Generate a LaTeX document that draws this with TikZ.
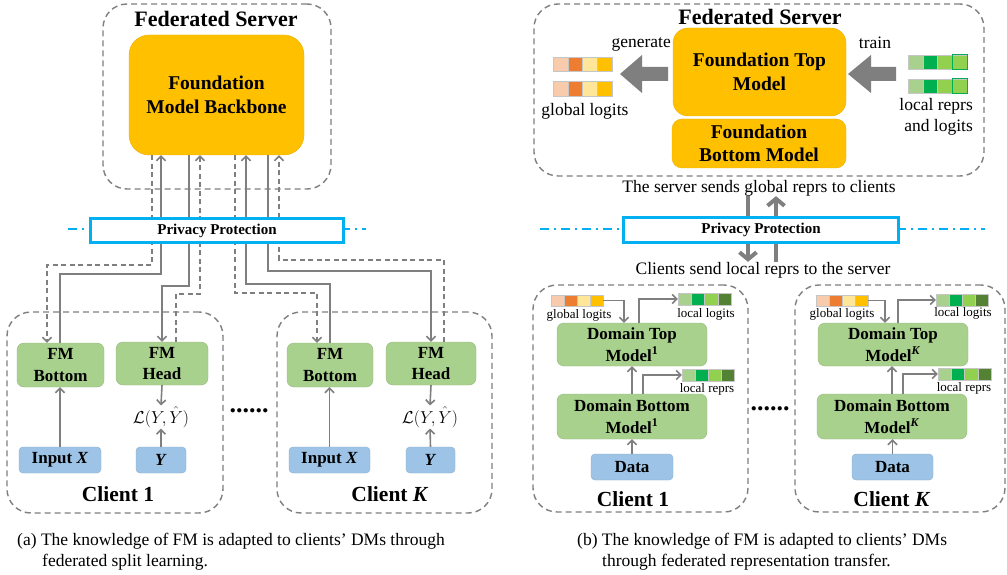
\documentclass[tikz,border=0pt]{standalone}
\usepackage{fontspec}
\setmainfont{Liberation Serif}
\usetikzlibrary{arrows.meta}
\definecolor{lgray}{HTML}{7F7F7F}
\definecolor{fmorange}{HTML}{FFC000}
\definecolor{fmgreen}{HTML}{A9D18E}
\definecolor{fmblue}{HTML}{9DC3E6}
\definecolor{ppblue}{HTML}{00B0F0}
\definecolor{oA}{HTML}{F8CBAD}
\definecolor{oB}{HTML}{ED7D31}
\definecolor{oC}{HTML}{FFE699}
\definecolor{oD}{HTML}{FFC000}
\definecolor{gA}{HTML}{A9D18E}
\definecolor{gB}{HTML}{00B050}
\definecolor{gC}{HTML}{92D050}
\definecolor{gD}{HTML}{548235}
\newcommand{\fs}[2]{\fontsize{#1}{#2}\selectfont}
\newcommand{\cellbar}[9]{%
  \node[cell, fill=#6, minimum width=#4, minimum height=#5] (#1a) at ({#2+0.5*#4},#3) {};
  \node[cell, fill=#7, minimum width=#4, minimum height=#5] (#1b) at ({#2+1.5*#4},#3) {};
  \node[cell, fill=#8, minimum width=#4, minimum height=#5] (#1c) at ({#2+2.5*#4},#3) {};
  \node[cell, fill=#9, minimum width=#4, minimum height=#5] (#1d) at ({#2+3.5*#4},#3) {};
}
\tikzset{
  dbox/.style={draw=lgray, line width=1.4pt, dash pattern=on 6pt off 4pt, rounded corners=24pt, inner sep=0pt},
  orbox/.style={fill=fmorange, draw=fmorange!92!black, line width=0.4pt, rounded corners=18pt, align=center, font=\fs{19.5}{23.5}\bfseries, inner sep=0pt},
  grbox/.style={fill=fmgreen, draw=fmgreen!88!black, line width=0.4pt, rounded corners=7pt, align=center, inner sep=0pt, font=\fs{17}{21.5}\bfseries},
  blbox/.style={fill=fmblue, draw=fmblue!88!black, line width=0.4pt, rounded corners=4pt, align=center, inner sep=0pt, font=\fs{17}{20}\bfseries},
  ppbox/.style={draw=ppblue, line width=3pt, fill=white, font=\fs{15}{18}\bfseries, inner sep=0pt},
  conn/.style={draw=lgray, line width=1.6pt, -{Straight Barb[length=4.5pt,width=9pt]}},
  dconn/.style={conn, dash pattern=on 5pt off 3.5pt},
  bigconn/.style={draw=lgray, line width=4pt, -{Straight Barb[length=7pt,width=17pt]}},
  ddline/.style={draw=ppblue, line width=1.5pt, dash pattern=on 9pt off 5pt on 2pt off 5pt},
  cell/.style={draw=gray!45, line width=0.4pt, inner sep=0pt},
  lbl/.style={inner sep=0pt, font=\fs{17.5}{21}},
  slbl/.style={inner sep=0pt, font=\fs{13}{15}},
  ttl/.style={inner sep=0pt, font=\fs{21.5}{25}\bfseries},
  mth/.style={inner sep=1pt, font=\fs{17}{20}},
  dotrow/.style={inner sep=0pt, font=\fs{26}{26}\bfseries},
}
\begin{document}
\begin{tikzpicture}[x=1pt,y=-1pt]
\useasboundingbox (0,0) rectangle (1007,575);
\fill[white] (0,0) rectangle (1007,575);

% ================= (a) =================
\node[dbox, minimum width=228, minimum height=185] (srvA) at (217,96.5) {};
\node[ttl, font=\fs{22}{26}\bfseries] (ttlA) at (216,19) {Federated Server};
\node[orbox, minimum width=175, minimum height=120, rounded corners=20pt] (bb) at (216.5,95) {Foundation\\Model Backbone};

\node[dbox, minimum width=216, minimum height=201] (clA1) at (115,412.5) {};
\node[dbox, minimum width=215, minimum height=201] (clAK) at (384.5,412.5) {};

\node[grbox, minimum width=87, minimum height=44] (fb1) at (60.5,365) {FM\\Bottom};
\node[grbox, minimum width=92, minimum height=43] (fh1) at (162,363.5) {FM\\Head};
\node[blbox, minimum width=82, minimum height=26] (in1) at (60,460) {Input \textit{X}};
\node[blbox, minimum width=50, minimum height=26] (y1) at (161,460) {\textit{Y}};
\node[mth] (ls1) at (161,417) {$\mathcal{L}(Y,\hat{Y})$};
\node[ttl] (cn1) at (118,494) {Client 1};

\node[grbox, minimum width=86, minimum height=44] (fbK) at (330,365) {FM\\Bottom};
\node[grbox, minimum width=90, minimum height=43] (fhK) at (431,363.5) {FM\\Head};
\node[blbox, minimum width=81, minimum height=26] (inK) at (329.5,460) {Input \textit{X}};
\node[blbox, minimum width=49, minimum height=26] (yK) at (430.5,460) {\textit{Y}};
\node[mth] (lsK) at (430,417) {$\mathcal{L}(Y,\hat{Y})$};
\node[ttl] (cnK) at (390,494) {Client \textit{K}};

\node[dotrow] (dotA) at (249,411) {......};

% connectors server <-> clients
\draw[dconn] (bb.south -| 152,0) -- (152,265) -| (fb1.north -| 47,0);
\draw[conn] (fb1.north -| 60,0) |- (161,274) -- (bb.south -| 161,0);
\draw[conn] (bb.south -| 189,0) -- (189,286) -| (fh1.north -| 162,0);
\draw[dconn] (fh1.north -| 176,0) |- (200,294) -- (bb.south -| 200,0);
\draw[dconn] (bb.south -| 235,0) -- (235,293) -| (fbK.north -| 317,0);
\draw[conn] (fbK.north -| 330,0) |- (246,284) -- (bb.south -| 246,0);
\draw[conn] (bb.south -| 268,0) -- (268,271) -| (fhK.north -| 431,0);
\draw[dconn] (fhK.north -| 444,0) |- (279,260) -- (bb.south -| 279,0);

% client internal
\draw[conn] (in1.north) -- (fb1.south -| in1.north);
\draw[conn] (fh1.south) -- (ls1.north);
\draw[conn] (y1.north) -- (ls1.south);
\draw[conn] (inK.north) -- (fbK.south -| inK.north);
\draw[conn] (fhK.south) -- (lsK.north);
\draw[conn] (yK.north) -- (lsK.south);

\draw[ddline] (68,229) -- (366,229);
\node[ppbox, minimum width=253, minimum height=24] (ppA) at (217,230.5) {Privacy Protection};

\node[lbl, anchor=base west] (capA1) at (17,545) {(a) The knowledge of FM is adapted to clients’ DMs through};
\node[lbl, anchor=base west] (capA2) at (42,566) {federated split learning.};

% ================= (b) =================
\node[dbox, minimum width=450, minimum height=172] (srvB) at (759,90) {};
\node[ttl, font=\fs{22}{26}\bfseries] (ttlB) at (760,17) {Federated Server};
\node[orbox, minimum width=173, minimum height=88, rounded corners=15pt] (ftop) at (759.5,72) {Foundation Top\\Model};
\node[orbox, minimum width=174, minimum height=49, rounded corners=10pt] (fbot) at (759,143.5) {Foundation\\Bottom Model};

\fill[lgray] (668,67) -- (642,67) -- (642,55) -- (620,74) -- (642,93) -- (642,81) -- (668,81) -- cycle;
\fill[lgray] (896,67) -- (871,67) -- (871,55) -- (848,74) -- (871,93) -- (871,81) -- (896,81) -- cycle;
\node[lbl, anchor=east] (gen) at (671,44) {generate};
\node[lbl] (trn) at (875,43) {train};

\cellbar{goA}{553}{64}{14.8}{14}{oA}{oB}{oC}{oD}
\cellbar{goB}{553}{88.5}{14.8}{15}{oA}{oB}{oC}{oD}
\node[lbl] (glbl) at (585,111) {global logits};
\cellbar{grA}{908}{62}{14.8}{14}{gA}{gB}{gC}{gC}
\cellbar{grB}{908}{86}{14.8}{14}{gA}{gB}{gC}{gC}
\draw[gB, line width=0.8pt] (grAd.south west) rectangle (grAd.north east);
\draw[gB, line width=0.8pt] (grBd.south west) rectangle (grBd.north east);
\node[lbl, anchor=east] (lrl1) at (973,106) {local reprs};
\node[lbl, anchor=east] (lrl2) at (973,127) {and logits};

\node[lbl] (srvtxt) at (759,188) {The server sends global reprs to clients};
\node[lbl] (cltxt) at (763,270) {Clients send local reprs to the server};

\draw[bigconn] (srvtxt.south -| 748,0) -- (cltxt.north -| 748,0);
\draw[bigconn] (cltxt.north -| 776,0) -- (srvtxt.south -| 776,0);

\draw[ddline] (540,229) -- (985,229);
\node[ppbox, minimum width=275, minimum height=25] (ppB) at (761,230) {Privacy Protection};

% clients (b)
\node[dbox, minimum width=215, minimum height=227] (clB1) at (640.5,398.5) {};
\node[dbox, minimum width=210, minimum height=227] (clBK) at (900,398.5) {};

\node[grbox, minimum width=150, minimum height=43] (dt1) at (632,344.5) {Domain Top\\Model\textsuperscript{1}};
\node[grbox, minimum width=150, minimum height=45] (db1) at (632,416.5) {Domain Bottom\\Model\textsuperscript{1}};
\node[blbox, minimum width=82, minimum height=26] (data1) at (632,467) {Data};
\node[ttl] (cb1) at (633,499) {Client 1};
\cellbar{gl1}{551}{300.5}{13}{11}{oA}{oB}{oC}{oD}
\node[slbl] (gl1t) at (579,315) {global logits};
\cellbar{ll1}{678}{299}{13.25}{12}{gA}{gB}{gC}{gD}
\node[slbl] (ll1t) at (706,314) {local logits};
\cellbar{lr1}{682}{375}{13}{12}{gA}{gB}{gC}{gD}
\node[slbl] (lr1t) at (707,389) {local reprs};
\draw[conn] (gl1d.east) -| (dt1.north -| 624,0);
\draw[conn] (dt1.north -| 639,0) |- (ll1a.west);
\draw[conn] (db1.north) -- (dt1.south);
\draw[conn] (db1.north -| 643,0) |- (lr1a.west);
\draw[conn] (data1.north) -- (db1.south);

\node[grbox, minimum width=150, minimum height=43] (dtK) at (893,344.5) {Domain Top\\Model\textsuperscript{\textit{K}}};
\node[grbox, minimum width=150, minimum height=45] (dbK) at (892,416.5) {Domain Bottom\\Model\textsuperscript{\textit{K}}};
\node[blbox, minimum width=81, minimum height=26] (dataK) at (892.5,467) {Data};
\node[ttl] (cbK) at (892,499) {Client \textit{K}};
\cellbar{glK}{816}{300.5}{13}{11}{oA}{oB}{oC}{oD}
\node[slbl] (glKt) at (842,314) {global logits};
\cellbar{llK}{936}{300}{13}{12}{gA}{gB}{gC}{gD}
\node[slbl] (llKt) at (963,313) {local logits};
\cellbar{lrK}{938}{374}{13.25}{12}{gA}{gB}{gC}{gD}
\node[slbl] (lrKt) at (964,388) {local reprs};
\draw[conn] (glKd.east) -| (dtK.north -| 885,0);
\draw[conn] (dtK.north -| 898,0) |- (llKa.west);
\draw[conn] (dbK.north -| 892,0) -- (dtK.south -| 892,0);
\draw[conn] (dbK.north -| 903,0) |- (lrKa.west);
\draw[conn] (dataK.north) -- (dbK.south -| dataK.north);

\node[dotrow] (dotB) at (770,409) {......};

\node[lbl, anchor=base west] (capB1) at (577,545) {(b) The knowledge of FM is adapted to clients’ DMs};
\node[lbl, anchor=base west] (capB2) at (602,566) {through federated representation transfer.};
\end{tikzpicture}
\end{document}
